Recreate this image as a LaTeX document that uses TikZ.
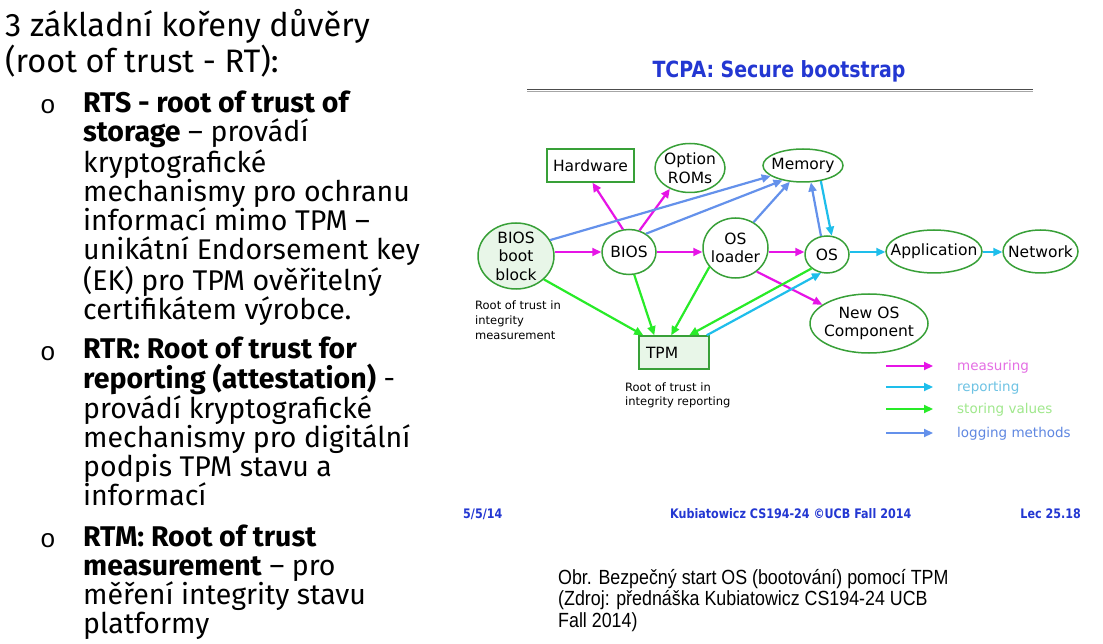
\documentclass[tikz,border=0pt]{standalone}
\usepackage{fontspec}
\setmainfont{Fira Sans}
\newfontfamily\diagfont{DejaVu Sans}
\newfontfamily\slidefont[FakeStretch=0.85]{DejaVu Sans}
\newfontfamily\captionfont[FakeStretch=0.87]{Liberation Sans}
\newfontfamily\bulletfont{Liberation Mono}
\usetikzlibrary{shapes.geometric,arrows.meta,calc}

\definecolor{nodegreen}{RGB}{56,160,56}
\definecolor{nodefill}{RGB}{232,246,232}
\definecolor{cmeas}{RGB}{230,20,230}
\definecolor{crep}{RGB}{30,190,235}
\definecolor{cstore}{RGB}{40,235,40}
\definecolor{clog}{RGB}{100,145,235}
\definecolor{lmeas}{RGB}{228,110,228}
\definecolor{lrep}{RGB}{110,195,228}
\definecolor{lstore}{RGB}{160,232,140}
\definecolor{llog}{RGB}{95,135,225}
\definecolor{slideblue}{RGB}{35,55,210}

\begin{document}
\begin{tikzpicture}[x=1pt,y=-1pt,
  every node/.style={inner sep=0pt},
  ell/.style={ellipse, draw=nodegreen, line width=1.5pt, inner sep=-20pt,
    font=\diagfont\fontsize{15.5}{18.5}\selectfont, align=center},
  box/.style={rectangle, draw=nodegreen, line width=1.5pt,
    font=\diagfont\fontsize{15.5}{18.5}\selectfont},
  note/.style={anchor=base west, font=\diagfont\fontsize{11.5}{14.5}\selectfont},
  flow/.style={line width=2.2pt, -{Triangle[length=9pt,width=8pt]}},
  meas/.style={flow, draw=cmeas},
  rep/.style={flow, draw=crep},
  store/.style={flow, draw=cstore},
  logm/.style={flow, draw=clog},
  legtext/.style={anchor=base west, font=\diagfont\fontsize{13.5}{16}\selectfont},
  bodytext/.style={anchor=base west, font=\fontsize{28.5}{29}\selectfont},
  bullet/.style={anchor=base, font=\bulletfont\fontsize{26}{26}\selectfont},
  slidefoot/.style={text=slideblue, font=\slidefont\bfseries\fontsize{13.1}{15}\selectfont}
]
\path[fill=white] (0,0) rectangle (1103,644);
\useasboundingbox (0,0) rectangle (1103,644);

% ---------- text column ----------
\node[anchor=base west, font=\fontsize{32.5}{34}\selectfont] (head) at (5,37)
  {\parbox[t]{450pt}{\raggedright 3 základní kořeny důvěry\\(root of trust - RT):}};

\node[bullet] (o1) at (48,114) {o};
\node[bodytext] (rts) at (83,113) {\parbox[t]{400pt}{\raggedright
  \textbf{RTS - root of trust of}\\
  \textbf{storage} – provádí\\
  kryptografické\\
  mechanismy pro ochranu\\
  informací mimo TPM –\\
  unikátní Endorsement key\\
  (EK) pro TPM ověřitelný\\
  certifikátem výrobce.}};

\node[bullet] (o2) at (48,360) {o};
\node[bodytext] (rtr) at (83,359) {\parbox[t]{400pt}{\raggedright
  \textbf{RTR: Root of trust for}\\
  \textbf{reporting (attestation)} -\\
  provádí kryptografické\\
  mechanismy pro digitální\\
  podpis TPM stavu a\\
  informací}};

\node[bullet] (o3) at (48,547) {o};
\node[bodytext] (rtm) at (83,546) {\parbox[t]{400pt}{\raggedright
  \textbf{RTM: Root of trust}\\
  \textbf{measurement} – pro\\
  měření integrity stavu\\
  platformy}};

% ---------- slide header ----------
\node[anchor=base, text=slideblue, font=\slidefont\bfseries\fontsize{22.3}{26}\selectfont]
  (title) at (779,78) {TCPA: Secure bootstrap};
\draw[line width=1.6pt, black!70] (527,89.5) -- (1033,89.5);
\draw[line width=1pt, black!35] (527,91.6) -- (1033,91.6);

% ---------- nodes ----------
\node[ell, fill=nodefill, minimum width=76, minimum height=66] (bbb) at (516,256) {BIOS\\boot\\block};
\node[ell, minimum width=54, minimum height=45] (bios) at (629,252) {BIOS};
\node[ell, minimum width=65, minimum height=60] (osl) at (735.5,248) {OS\\loader};
\node[ell, minimum width=44, minimum height=37] (os) at (827,254.5) {OS};
\node[ell, minimum width=96, minimum height=43] (app) at (934,251.5) {Application};
\node[ell, minimum width=75, minimum height=43] (net) at (1040.5,251.5) {Network};
\node[ell, minimum width=80, minimum height=33] (mem) at (803,165.5) {Memory};
\node[ell, minimum width=70, minimum height=49] (rom) at (690,168) {Option\\ROMs};
\node[ell, minimum width=118, minimum height=59] (newos) at (869,323.5) {New OS\\Component};
\node[box, minimum width=87, minimum height=33] (hw) at (590.5,165.5) {Hardware};
\node[box, fill=nodefill, minimum height=33, text width=56pt, inner xsep=7pt, align=left]
  (tpm) at (674,352.5) {TPM};

\node[note] (rtmnote) at (475,310) {\parbox[t]{150pt}{\raggedright Root of trust in\\integrity\\measurement}};
\node[note] (rtrnote) at (625,391) {\parbox[t]{150pt}{\raggedright Root of trust in\\integrity reporting}};

% ---------- measuring ----------
\draw[meas] (bbb.east |- bios.west) -- (bios.west);
\draw[meas] (bios.105) -- ([xshift=2pt]hw.south);
\draw[meas] (bios.64) -- (rom.226);
\draw[meas] (bios.east) -- (osl.west |- bios.east);
\draw[meas] (osl.east |- bios.east) -- (os.west |- bios.east);
\draw[meas] (osl.-48) -- (newos.158);

% ---------- logging ----------
\draw[logm] (bbb.25) -- (mem.198);
\draw[logm] (bios.47) -- (mem.216);
\draw[logm] (osl.55) -- (mem.231);
\draw[logm] (os.108) -- (mem.295);

% ---------- storing ----------
\draw[store] (bbb.-40) -- ([xshift=5pt]tpm.north west);
\draw[store] (bios.-77) -- ([xshift=16pt]tpm.north west);
\draw[store] (osl.216) -- ([xshift=33pt]tpm.north west);
\draw[store] (os.222) -- ([xshift=51pt]tpm.north west);

% ---------- reporting ----------
\draw[rep] (mem.-41) -- (os.76);
\draw[rep] (os.east |- bios.east) -- (app.west |- bios.east);
\draw[rep] (app.east |- bios.east) -- (net.west |- bios.east);
\draw[rep] ([xshift=-3pt]tpm.north east) -- (os.252);

% ---------- legend ----------
\coordinate (m1) at (886,366); \coordinate (m2) at (933,366);
\coordinate (r1) at (886,387); \coordinate (r2) at (933,387);
\coordinate (s1) at (886,409); \coordinate (s2) at (933,409);
\coordinate (l1) at (886,433); \coordinate (l2) at (933,433);
\draw[meas] (m1) -- (m2);
\draw[rep] (r1) -- (r2);
\draw[store] (s1) -- (s2);
\draw[logm] (l1) -- (l2);
\node[legtext, text=lmeas] (lgm) at (957,370) {measuring};
\node[legtext, text=lrep] (lgr) at (957,391) {reporting};
\node[legtext, text=lstore] (lgs) at (957,413) {storing values};
\node[legtext, text=llog] (lgl) at (957,437) {logging methods};

% ---------- footer ----------
\node[slidefoot, anchor=base west] (date) at (463,518) {5/5/14};
\node[slidefoot, anchor=base west] (course) at (670,518) {Kubiatowicz CS194-24 ©UCB Fall 2014};
\node[slidefoot, anchor=base east] (lec) at (1081,518) {Lec 25.18};

% ---------- caption ----------
\node[anchor=base west, font=\captionfont\fontsize{20.5}{21.5}\selectfont] (caption) at (558,584)
  {\parbox[t]{420pt}{\raggedright Obr. Bezpečný start OS (bootování) pomocí TPM\\(Zdroj: přednáška Kubiatowicz CS194-24 UCB\\Fall 2014)}};
\end{tikzpicture}
\end{document}
